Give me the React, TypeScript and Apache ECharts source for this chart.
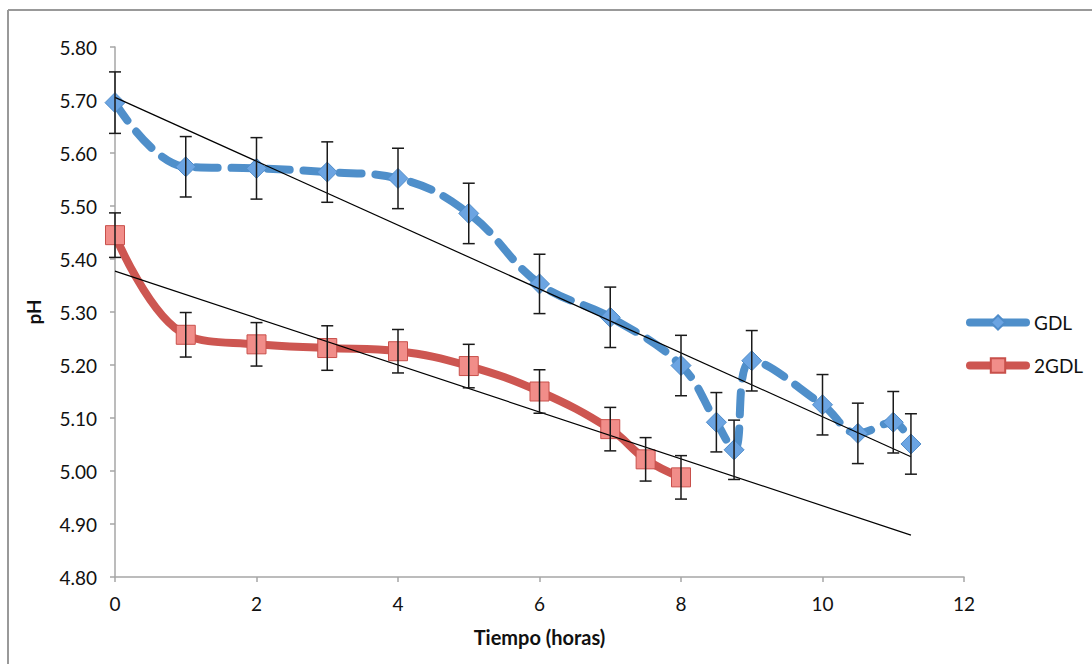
import React, { useEffect, useRef } from "react";
import * as echarts from "echarts";

const gdlX = [0, 1, 2, 3, 4, 5, 6, 7, 8, 8.5, 8.75, 9, 10, 10.5, 11, 11.25];
const gdlY = [5.695, 5.574, 5.571, 5.564, 5.552, 5.486, 5.353, 5.29, 5.199, 5.092, 5.04, 5.208, 5.125, 5.071, 5.092, 5.051];
const gdlErr = [0.058, 0.057, 0.058, 0.057, 0.057, 0.057, 0.056, 0.057, 0.057, 0.056, 0.056, 0.057, 0.057, 0.057, 0.058, 0.057];

const g2X = [0, 1, 2, 3, 4, 5, 6, 7, 7.5, 8];
const g2Y = [5.445, 5.257, 5.239, 5.232, 5.226, 5.198, 5.15, 5.079, 5.022, 4.988];
const g2Err = [0.042, 0.042, 0.041, 0.042, 0.041, 0.041, 0.041, 0.041, 0.041, 0.041];

const trendGdlX = [0, 11.25];
const trendGdlY = [5.705, 5.027];
const trend2X = [0, 11.25];
const trend2Y = [5.377, 4.879];

const xTicks = [0, 12, 2];
const yTicks = [4.8, 5.8, 0.1];

const FONT = "Lato, 'Open Sans', sans-serif";

function errData(xs: number[], ys: number[], es: number[]) {
  return xs.map((x, i) => [x, ys[i] - es[i], ys[i] + es[i]]);
}

function errRender(params: any, api: any) {
  const x = api.value(0);
  const lo = api.coord([x, api.value(1)]);
  const hi = api.coord([x, api.value(2)]);
  const cap = 6;
  const style = { stroke: "#1a1a1a", lineWidth: 1.5 };
  return {
    type: "group",
    children: [
      { type: "line", shape: { x1: lo[0], y1: lo[1], x2: hi[0], y2: hi[1] }, style },
      { type: "line", shape: { x1: lo[0] - cap, y1: lo[1], x2: lo[0] + cap, y2: lo[1] }, style },
      { type: "line", shape: { x1: hi[0] - cap, y1: hi[1], x2: hi[0] + cap, y2: hi[1] }, style },
    ],
  };
}

export default function App() {
  const ref = useRef<HTMLDivElement>(null);
  useEffect(() => {
    document.body.style.margin = "0";
    const chart = echarts.init(ref.current!, null, { renderer: "svg" });
    chart.setOption({
      animation: false,
      backgroundColor: "#ffffff",
      grid: { left: 115, top: 47, right: 128, bottom: 87, containLabel: false },
      graphic: [
        { type: "line", shape: { x1: 8, y1: 10, x2: 1092, y2: 10 }, style: { stroke: "#999999", lineWidth: 2 } },
        { type: "line", shape: { x1: 8, y1: 10, x2: 8, y2: 664 }, style: { stroke: "#999999", lineWidth: 2 } },
      ],
      legend: {
        data: [
          { name: "GDL", lineStyle: { width: 8, cap: "round", type: "solid" } },
          { name: "2GDL", lineStyle: { width: 8, cap: "round", type: "solid" } },
        ],
        orient: "vertical",
        left: 961,
        top: 308,
        itemWidth: 56,
        itemHeight: 18,
        itemGap: 24,
        textStyle: { fontFamily: FONT, fontSize: 19, color: "#111", padding: [0, 0, 0, 3] },
      },
      xAxis: {
        type: "value",
        min: xTicks[0],
        max: xTicks[1],
        interval: xTicks[2],
        name: "Tiempo (horas)",
        nameLocation: "middle",
        nameGap: 50,
        nameTextStyle: { fontFamily: FONT, fontSize: 20, fontWeight: "bold", color: "#111" },
        axisLine: { lineStyle: { color: "#a6a6a6", width: 1.5 } },
        axisTick: { show: true, length: 5, lineStyle: { color: "#a6a6a6", width: 1.5 } },
        axisLabel: { fontFamily: FONT, fontSize: 19, color: "#111", margin: 17 },
        splitLine: { show: false },
      },
      yAxis: {
        type: "value",
        min: yTicks[0],
        max: yTicks[1],
        interval: yTicks[2],
        name: "pH",
        nameLocation: "middle",
        nameGap: 72,
        nameRotate: 90,
        nameTextStyle: { fontFamily: FONT, fontSize: 19, fontWeight: "bold", color: "#111" },
        axisLine: { show: true, lineStyle: { color: "#a6a6a6", width: 1.5 } },
        axisTick: { show: true, length: 5, lineStyle: { color: "#a6a6a6", width: 1.5 } },
        axisLabel: { fontFamily: FONT, fontSize: 19, color: "#111", margin: 18, formatter: (v: number) => v.toFixed(2) },
        splitLine: { show: false },
      },
      series: [
        {
          name: "trendGDL",
          type: "line",
          data: trendGdlX.map((x, i) => [x, trendGdlY[i]]),
          symbol: "none",
          lineStyle: { color: "#000", width: 1.2 },
          z: 5,
          silent: true,
        },
        {
          name: "trend2GDL",
          type: "line",
          data: trend2X.map((x, i) => [x, trend2Y[i]]),
          symbol: "none",
          lineStyle: { color: "#000", width: 1.2 },
          z: 5,
          silent: true,
        },
        {
          name: "2GDL",
          type: "line",
          data: g2X.map((x, i) => [x, g2Y[i]]),
          smooth: 0.4,
          symbol: "rect",
          symbolSize: 19,
          itemStyle: { color: "#f18d89", borderColor: "#c8504b", borderWidth: 1 },
          lineStyle: { color: "#cd5651", width: 8 },
          z: 3,
        },
        {
          name: "GDL",
          type: "line",
          data: gdlX.map((x, i) => [x, gdlY[i]]),
          smooth: 0.4,
          symbol: "diamond",
          symbolSize: 20,
          itemStyle: { color: "#6ba4e2", borderColor: "#4f8cc9", borderWidth: 1 },
          lineStyle: { color: "#4f8fca", width: 8, type: [22, 14], cap: "round" },
          z: 3,
        },
        {
          type: "custom",
          name: "errGDL",
          data: errData(gdlX, gdlY, gdlErr),
          renderItem: errRender,
          encode: { x: 0, y: [1, 2] },
          z: 10,
          silent: true,
        },
        {
          type: "custom",
          name: "err2GDL",
          data: errData(g2X, g2Y, g2Err),
          renderItem: errRender,
          encode: { x: 0, y: [1, 2] },
          z: 10,
          silent: true,
        },
      ],
    });
    return () => chart.dispose();
  }, []);
  return <div ref={ref} style={{ position: "absolute", left: 0, top: 0, width: 1092, height: 664 }} />;
}
